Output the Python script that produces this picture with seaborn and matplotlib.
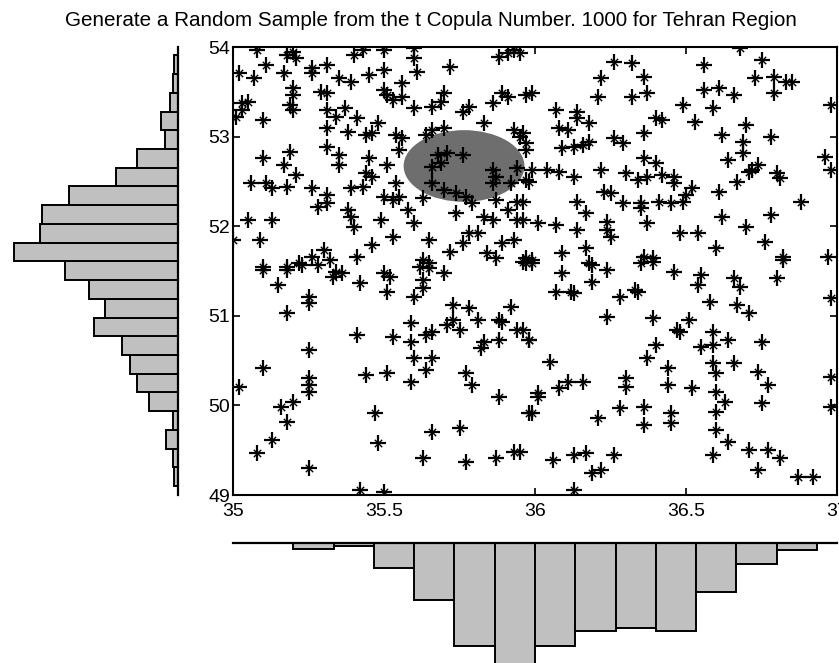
import numpy as np
import pandas as pd
import matplotlib
matplotlib.use("Agg")
import matplotlib.pyplot as plt
import seaborn as sns
from matplotlib.patches import Ellipse

# ---------------- data ----------------
title = "Generate a Random Sample from the t Copula Number. 1000 for Tehran Region"

lat = [
35.08,35.20,35.21,35.18,35.40,35.43,35.50,35.60,35.60,35.61,35.91,35.93,35.95,35.88,35.11,35.26,35.26,35.31,
35.02,35.07,35.17,35.35,35.39,35.45,35.50,35.72,35.20,35.20,35.29,35.31,35.50,35.51,35.56,35.56,35.53,35.70,
35.69,35.66,35.89,35.91,35.97,35.03,35.03,35.05,35.01,35.19,35.20,35.31,35.37,35.34,35.41,35.60,35.76,35.78,
35.86,35.83,35.10,35.31,35.38,35.48,35.46,35.44,35.54,35.56,35.64,35.66,35.70,35.93,35.95,35.97,35.31,35.19,
35.55,35.35,35.35,35.10,35.17,35.45,35.51,35.68,35.71,35.76,35.69,35.66,35.21,35.44,35.46,35.86,35.87,35.94,
35.06,35.11,35.13,35.18,35.26,35.39,35.43,35.54,35.66,35.70,35.86,35.92,35.97,35.31,35.31,35.50,35.53,35.55,
35.74,35.77,35.79,35.87,35.94,35.28,35.38,35.39,35.58,35.63,35.49,35.60,35.74,35.83,35.86,35.91,35.94,35.05,
35.13,35.40,35.53,35.65,35.78,35.81,35.76,35.89,35.93,35.00,35.09,35.46,35.72,35.84,35.87,35.30,35.26,35.32,
35.41,35.63,35.65,35.96,35.10,35.18,35.22,
36.68,36.75,36.26,36.32,36.56,36.22,36.36,36.73,36.79,36.83,36.85,35.99,36.21,36.32,36.37,36.56,36.61,36.66,
36.79,36.49,36.59,36.98,36.07,36.14,36.14,36.40,36.42,36.53,36.18,36.08,36.11,35.96,36.70,36.36,36.26,36.29,
36.62,36.78,36.09,36.13,36.16,36.18,35.97,36.69,36.69,36.36,36.40,36.64,36.96,36.98,35.99,36.04,36.08,36.22,
36.30,36.13,36.37,36.42,36.46,36.34,36.71,36.74,36.72,36.80,36.81,35.98,36.67,36.46,36.23,36.25,36.52,36.50,
36.61,36.14,36.17,36.29,36.35,36.35,36.41,36.45,36.49,36.88,35.96,36.62,36.78,35.96,36.01,36.07,36.14,36.24,
36.24,36.25,36.37,36.48,36.54,36.70,36.60,36.76,36.82,36.09,36.17,36.36,36.39,36.97,35.99,35.97,36.18,
35.10,35.18,35.23,35.28,35.33,35.36,35.34,35.42,35.50,35.52,35.51,35.62,35.65,35.70,35.63,35.63,35.60,35.15,
35.25,35.25,35.18,35.73,35.78,35.81,35.73,35.75,35.71,35.88,35.89,35.92,35.94,35.98,35.41,35.53,35.59,35.59,
35.64,35.66,35.83,35.82,35.88,35.25,35.60,35.66,35.64,35.10,35.77,35.25,35.25,35.25,35.44,35.51,35.59,35.79,
35.02,35.88,35.20,35.16,35.47,35.98,35.18,35.66,35.75,35.13,35.48,35.08,35.63,35.77,35.87,35.93,35.25,35.42,
35.50,
35.97,35.99,36.09,36.19,36.19,36.24,36.35,36.39,36.46,36.55,36.54,36.66,36.68,36.80,36.82,36.98,36.07,36.12,
36.13,36.28,36.33,36.34,36.58,36.67,36.71,36.24,36.39,36.51,36.47,36.48,36.59,35.98,35.96,36.55,36.59,36.64,
36.75,36.40,36.37,36.05,36.59,36.60,36.66,36.74,36.44,36.44,36.30,36.30,36.11,36.08,36.16,36.77,36.52,36.60,
36.63,36.98,36.01,36.01,36.28,36.36,36.45,36.45,36.60,36.75,36.98,35.99,36.21,36.36,36.60,36.64,36.71,36.77,
36.81,35.95,36.06,36.13,36.17,36.26,36.59,36.74,36.19,36.22,36.87,36.92,36.13,
]

lon = [
53.97,53.94,53.88,53.91,53.91,53.97,53.97,53.99,53.88,53.72,53.93,53.97,53.93,53.89,53.80,53.77,53.71,53.80,
53.71,53.65,53.71,53.65,53.61,53.69,53.74,53.78,53.54,53.46,53.50,53.49,53.52,53.46,53.60,53.44,53.41,53.49,
53.39,53.33,53.49,53.44,53.46,53.38,53.30,53.39,53.22,53.35,53.30,53.30,53.32,53.22,53.21,53.32,53.27,53.33,
53.38,53.15,53.19,53.10,53.05,53.15,53.04,53.02,53.02,52.98,53.02,53.07,53.10,53.07,53.00,52.93,52.88,52.83,
52.85,52.79,52.68,52.76,52.68,52.76,52.68,52.79,52.82,52.79,52.71,52.66,52.57,52.59,52.55,52.63,52.55,52.65,
52.48,52.48,52.43,52.44,52.43,52.43,52.44,52.48,52.48,52.40,52.48,52.48,52.52,52.35,52.26,52.33,52.29,52.33,
52.37,52.33,52.26,52.29,52.27,52.21,52.18,52.10,52.18,52.31,52.07,52.04,52.15,52.10,52.07,52.18,52.07,52.07,
52.07,51.99,51.88,51.85,51.92,51.92,51.81,51.81,51.85,51.85,51.85,51.79,51.71,51.70,51.65,51.73,51.66,51.62,
51.66,51.62,51.59,51.60,51.54,51.54,51.59,
53.99,53.85,53.83,53.82,53.80,53.65,53.67,53.65,53.67,53.61,53.61,53.49,53.44,53.44,53.49,53.52,53.54,53.46,
53.49,53.35,53.32,53.35,53.30,53.27,53.21,53.21,53.19,53.16,53.15,53.10,53.07,53.04,53.13,53.04,52.98,52.93,
53.02,53.00,52.87,52.88,52.91,52.94,52.85,52.94,52.82,52.76,52.71,52.74,52.77,52.63,52.63,52.63,52.60,52.63,
52.59,52.55,52.55,52.57,52.55,52.52,52.60,52.68,52.63,52.59,52.54,52.49,52.49,52.48,52.38,52.37,52.43,52.35,
52.38,52.27,52.15,52.26,52.26,52.20,52.27,52.26,52.27,52.27,52.27,52.10,52.13,52.07,52.04,52.01,51.96,52.05,
51.96,51.88,52.04,51.92,51.92,51.99,51.76,51.82,51.66,51.70,51.76,51.66,51.65,51.66,51.62,51.65,51.59,
51.51,51.51,51.57,51.57,51.43,51.48,51.49,51.37,51.48,51.43,51.27,51.54,51.53,51.48,51.40,51.31,51.21,51.34,
51.21,51.14,51.03,51.12,51.09,50.95,50.95,50.84,50.90,50.95,50.93,51.10,50.84,50.73,50.79,50.76,50.92,50.71,
50.79,50.82,50.71,50.64,50.73,50.62,50.53,50.53,50.40,50.42,50.36,50.31,50.23,50.15,50.34,50.36,50.26,50.23,
50.21,50.09,50.04,49.98,49.92,49.92,49.81,49.70,49.75,49.61,49.58,49.47,49.41,49.37,49.41,49.48,49.30,49.06,
49.03,
51.59,51.59,51.48,51.57,51.38,51.51,51.59,51.60,51.49,51.46,51.34,51.42,51.32,51.42,51.62,51.20,51.27,51.27,
51.25,51.21,51.29,51.27,51.15,51.12,51.03,50.99,50.98,50.95,50.84,50.82,50.82,50.73,50.84,50.65,50.67,50.73,
50.71,50.67,50.53,50.48,50.47,50.36,50.47,50.37,50.42,50.23,50.31,50.21,50.26,50.19,50.26,50.23,50.19,50.15,
50.04,50.32,50.14,50.09,49.97,49.98,49.92,49.80,49.93,50.03,49.98,49.92,49.86,49.78,49.73,49.59,49.50,49.50,
49.41,49.48,49.39,49.45,49.47,49.45,49.45,49.28,49.25,49.28,49.20,49.20,49.06,
]

# marginal histogram of latitude (bottom panel)
lat_edges = [35.200, 35.333, 35.467, 35.600, 35.733, 35.867, 36.000,
             36.133, 36.267, 36.400, 36.533, 36.667, 36.800, 36.933]
lat_counts = [6, 3, 23, 53, 96, 125, 96, 82, 80, 82, 46, 20, 7]

# marginal histogram of longitude (left panel)
lon_edges = [49.100, 49.309, 49.518, 49.727, 49.936, 50.145, 50.354, 50.563,
             50.772, 50.981, 51.190, 51.399, 51.608, 51.817, 52.026, 52.235,
             52.444, 52.653, 52.862, 53.071, 53.280, 53.489, 53.698, 53.907]
lon_counts = [4, 5, 11, 5, 27, 38, 45, 52, 78, 68, 83, 105, 153, 129, 127,
              102, 58, 38, 12, 16, 7, 5, 4]

# highlighted region (ellipse)
ell_center = (35.765, 52.672)
ell_width = 0.40
ell_height = 0.80

x_ticks = [35, 35.5, 36, 36.5, 37]
x_ticklabels = ["35", "35.5", "36", "36.5", "37"]
y_ticks = [49, 50, 51, 52, 53, 54]
y_ticklabels = ["49", "50", "51", "52", "53", "54"]

# ---------------- plotting ----------------
sns.set_style("ticks")
plt.rcParams["font.family"] = ["Liberation Sans", "DejaVu Sans"]
plt.rcParams["text.color"] = "black"
plt.rcParams["xtick.color"] = "black"
plt.rcParams["ytick.color"] = "black"

W, H = 839, 663
fig = plt.figure(figsize=(W / 100, H / 100), dpi=100)


def frac(l, t, r, b):
    return [l / W, 1 - b / H, (r - l) / W, (b - t) / H]


ax = fig.add_axes(frac(233, 47, 837, 495))
axl = fig.add_axes(frac(0, 47, 178, 495))
axb = fig.add_axes(frac(233, 543, 837, 668))

df = pd.DataFrame({"lat": lat, "lon": lon})

ax.add_patch(Ellipse(ell_center, ell_width, ell_height, facecolor="#6e6e6e",
                     edgecolor="none", zorder=1))
sns.scatterplot(data=df, x="lat", y="lon", marker="+", s=125, color="black",
                linewidth=1.6, ax=ax, zorder=3, legend=False)
sns.scatterplot(data=df, x="lat", y="lon", marker="x", s=28, color="black",
                linewidth=1.0, ax=ax, zorder=3, legend=False)
ax.set_xlim(35, 37)
ax.set_ylim(49, 54)
ax.set_xticks(x_ticks)
ax.set_xticklabels(x_ticklabels)
ax.set_yticks(y_ticks)
ax.set_yticklabels(y_ticklabels)
ax.set_xlabel("")
ax.set_ylabel("")
ax.tick_params(direction="in", length=5, width=1.2, top=True, right=True,
               labelsize=14, colors="black", labelcolor="black")
ax.tick_params(axis="x", pad=6)
ax.tick_params(axis="y", pad=2)
for s in ax.spines.values():
    s.set_linewidth(1.5)
    s.set_color("black")

# bottom histogram
lat_centers = 0.5 * (np.array(lat_edges[:-1]) + np.array(lat_edges[1:]))
sns.histplot(x=lat_centers, weights=lat_counts, bins=lat_edges, ax=axb,
             color="#c0c0c0", edgecolor="black", linewidth=1.4, alpha=1)
axb.set_xlim(35, 37)
axb.set_ylim(117, 0)
for k in ["left", "right", "bottom"]:
    axb.spines[k].set_visible(False)
axb.spines["top"].set_linewidth(1.6)
axb.spines["top"].set_color("black")
axb.set_xticks([])
axb.set_yticks([])
axb.set_xlabel("")
axb.set_ylabel("")

# left histogram
lon_centers = 0.5 * (np.array(lon_edges[:-1]) + np.array(lon_edges[1:]))
sns.histplot(y=lon_centers, weights=lon_counts, bins=lon_edges, ax=axl,
             color="#c0c0c0", edgecolor="black", linewidth=1.4, alpha=1)
axl.set_ylim(49, 54)
axl.set_xlim(166, 0)
for k in ["left", "top", "bottom"]:
    axl.spines[k].set_visible(False)
axl.spines["right"].set_linewidth(1.6)
axl.spines["right"].set_color("black")
axl.set_xticks([])
axl.set_yticks([])
axl.set_xlabel("")
axl.set_ylabel("")

fig.text(0.514, 0.969, title, ha="center", va="center", fontsize=14.9,
         color="black")

fig.savefig("out.png", dpi=100)
